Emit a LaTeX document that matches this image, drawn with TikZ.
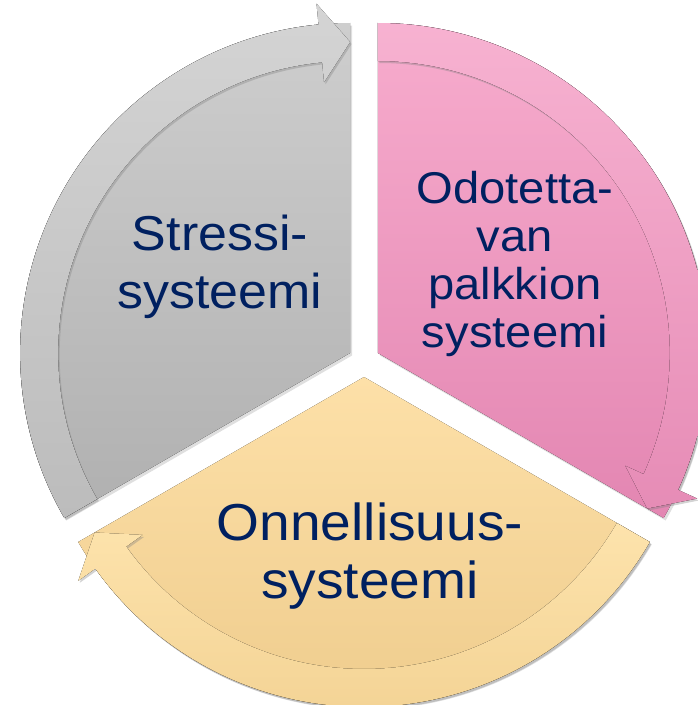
\documentclass[tikz,border=0pt]{standalone}
\usepackage{fontspec}
\newfontfamily\segfont[FakeStretch=1.06]{Liberation Sans}
\usepackage{tikz}
\usetikzlibrary{shadows}

\definecolor{txtnavy}{RGB}{0,32,96}
\definecolor{grayhi}{RGB}{206,206,206}
\definecolor{graylo}{RGB}{176,176,176}
\definecolor{grayband}{RGB}{212,212,212}
\definecolor{grayblo}{RGB}{188,188,188}
\definecolor{pinkhi}{RGB}{247,172,205}
\definecolor{pinklo}{RGB}{227,134,178}
\definecolor{pinkband}{RGB}{247,178,209}
\definecolor{pinkblo}{RGB}{230,140,182}
\definecolor{yelhi}{RGB}{253,224,168}
\definecolor{yello}{RGB}{237,202,138}
\definecolor{yelband}{RGB}{253,227,172}
\definecolor{yelblo}{RGB}{244,212,150}

\begin{document}
\begin{tikzpicture}[x=1pt, y=1pt,
	segtext/.style={text=txtnavy, align=center, anchor=base, inner sep=0pt},
	wedge/.style={drop shadow={opacity=.25, shadow xshift=2pt, shadow yshift=-2.5pt}},
	band/.style={drop shadow={opacity=.35, shadow xshift=1.5pt, shadow yshift=-2pt}}]
	\useasboundingbox (-364,-344) rectangle (333,361);
	\foreach \mid/\hi/\lo/\bhi/\blo in {150/grayhi/graylo/grayband/grayblo, 30/pinkhi/pinklo/pinkband/pinkblo, 270/yelhi/yello/yelband/yelblo} {
		\begin{scope}[shift={(\mid:16)}]
			\fill[wedge, top color=\hi, bottom color=\lo] (0,0) -- (\mid+60:330) arc[start angle=\mid+60, end angle=\mid-60, radius=330] -- cycle;
			\fill[band, top color=\bhi, bottom color=\blo] (\mid+60:330) arc[start angle=\mid+60, end angle=\mid-54.5, radius=330]
				-- (\mid-54.5:351) -- (\mid-60:311) -- (\mid-54.5:272) -- (\mid-54.5:292)
				arc[start angle=\mid-54.5, end angle=\mid+60, radius=292] -- cycle;
		\end{scope}
	}
	\node[segtext, font=\segfont\fontsize{49}{58}\selectfont] (stressi) at (-144,53) {Stressi-\\systeemi};
	\node[segtext, font=\segfont\fontsize{44.5}{48}\selectfont] (palkkio) at (151,14) {Odotetta-\\van\\palkkion\\systeemi};
	\node[segtext, font=\segfont\fontsize{52}{58}\selectfont] (onni) at (6,-237) {Onnellisuus-\\systeemi};
\end{tikzpicture}
\end{document}
